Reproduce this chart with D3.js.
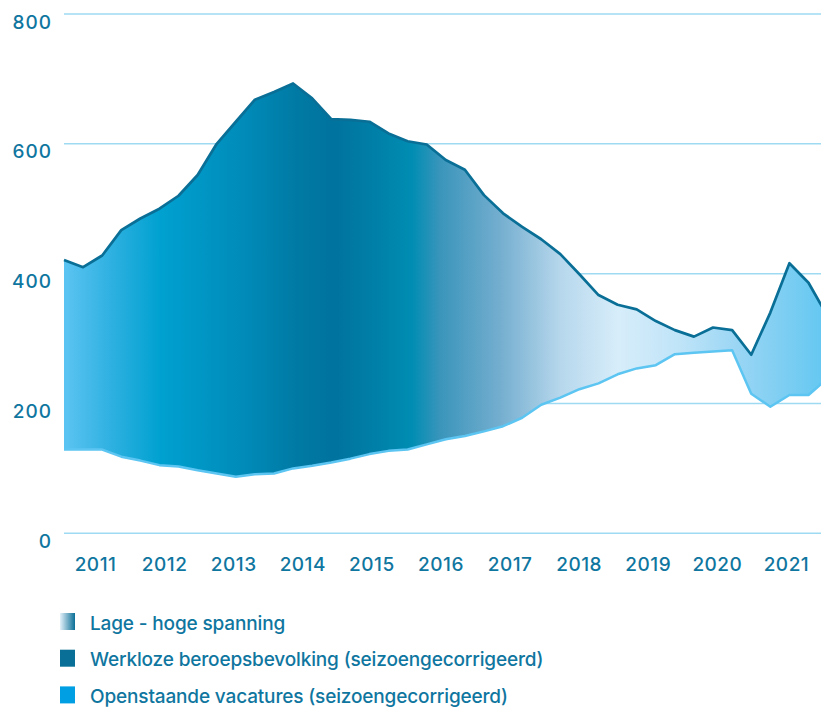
<!DOCTYPE html>
<html>
<head>
<meta charset="utf-8">
<script src="https://cdn.jsdelivr.net/npm/d3@7"></script>
<style>
  html, body { margin: 0; padding: 0; background: #ffffff; }
  svg { display: block; }
  text { font-family: "Inter", "Lato", sans-serif; font-weight: 500; fill: #0f76a0; }
</style>
</head>
<body>
<svg id="chart" width="821" height="709"></svg>
<script>
// Quarterly periods (2011 K1 .. 2021 K1)
const periods = [
  "2011K1","2011K2","2011K3","2011K4","2012K1","2012K2","2012K3","2012K4",
  "2013K1","2013K2","2013K3","2013K4","2014K1","2014K2","2014K3","2014K4",
  "2015K1","2015K2","2015K3","2015K4","2016K1","2016K2","2016K3","2016K4",
  "2017K1","2017K2","2017K3","2017K4","2018K1","2018K2","2018K3","2018K4",
  "2019K1","2019K2","2019K3","2019K4","2020K1","2020K2","2020K3","2020K4",
  "2021K1"
];
// Werkloze beroepsbevolking (x 1000)
const werklozen = [
  421, 410, 428, 467, 485, 500, 520, 552, 600, 634,
  668, 680, 693, 670, 638, 637, 634, 616, 604, 599,
  575, 560, 521, 493, 472, 453, 430, 399, 367, 352,
  345, 327, 313, 303, 317, 313, 275, 340, 416, 386,
  334
];
// Openstaande vacatures (x 1000)
const vacatures = [
  129, 129, 129, 118, 112, 105, 103, 97, 92, 87,
  91, 92, 100, 104, 109, 115, 122, 127, 129, 137,
  145, 150, 157, 165, 178, 198, 209, 222, 231, 245,
  254, 259, 276, 278, 280, 282, 215, 195, 213, 213,
  239
];
const yearLabels = ["2011","2012","2013","2014","2015","2016","2017","2018","2019","2020","2021"];
const yTicks = [0, 200, 400, 600, 800];
const legendItems = [
  "Lage - hoge spanning",
  "Werkloze beroepsbevolking (seizoengecorrigeerd)",
  "Openstaande vacatures (seizoengecorrigeerd)"
];

const svg = d3.select("#chart");
const W = 821;
const left = 64;
const step = 19.09;

const x = d3.scaleLinear().domain([0, periods.length - 1]).range([left, left + step * (periods.length - 1)]);
const y = d3.scaleLinear().domain([0, 800]).range([533.3, 14]);
const xYear = d3.scaleBand().domain(yearLabels).range([61, 821]);

const defs = svg.append("defs");
const grad = defs.append("linearGradient")
  .attr("id", "spanning")
  .attr("gradientUnits", "userSpaceOnUse")
  .attr("x1", left).attr("x2", W).attr("y1", 0).attr("y2", 0);
const stops = [
  [64, "#5cc4f2"], [110, "#2fb1e1"], [160, "#00a1d0"], [240, "#008cba"],
  [300, "#0079a3"], [335, "#00739e"], [380, "#0081a9"], [412, "#008db3"],
  [440, "#3a95bb"], [500, "#74aecf"], [560, "#b6d7ec"], [618, "#d7edfa"],
  [680, "#bfe4f8"], [740, "#98d5f4"], [821, "#66c8f1"]
];
stops.forEach(([px, c]) => grad.append("stop")
  .attr("offset", ((px - left) / (W - left) * 100) + "%")
  .attr("stop-color", c));

const lg = defs.append("linearGradient").attr("id", "legendGrad")
  .attr("x1", "0%").attr("x2", "100%");
lg.append("stop").attr("offset", "0%").attr("stop-color", "#e4f1fa");
lg.append("stop").attr("offset", "100%").attr("stop-color", "#0a6f96");

// Gridlines
svg.append("g").selectAll("line").data(yTicks).join("line")
  .attr("x1", left).attr("x2", W)
  .attr("y1", d => y(d)).attr("y2", d => y(d))
  .attr("stroke", "#9fdaf3").attr("stroke-width", 1.5);

// Y labels
svg.append("g").selectAll("text").data(yTicks).join("text")
  .attr("x", 52).attr("y", d => y(d) + 14.5)
  .attr("text-anchor", "end")
  .attr("font-size", 19)
  .attr("letter-spacing", 1)
  .text(d => d);

// Area between series
const data = periods.map((p, i) => ({ i, w: werklozen[i], v: vacatures[i] }));
const area = d3.area().x(d => x(d.i)).y0(d => y(d.v)).y1(d => y(d.w));
svg.append("path").datum(data).attr("d", area).attr("fill", "url(#spanning)");

// Lines
const lineV = d3.line().x(d => x(d.i)).y(d => y(d.v));
const lineW = d3.line().x(d => x(d.i)).y(d => y(d.w));
svg.append("path").datum(data).attr("d", lineV)
  .attr("fill", "none").attr("stroke", "#5cc5f2").attr("stroke-width", 2.5)
  .attr("stroke-linejoin", "round");
svg.append("path").datum(data).attr("d", lineW)
  .attr("fill", "none").attr("stroke", "#0a6f96").attr("stroke-width", 2.7)
  .attr("stroke-linejoin", "round");

// Year labels
svg.append("g").selectAll("text").data(yearLabels).join("text")
  .attr("x", d => xYear(d) + xYear.bandwidth() / 2)
  .attr("y", 570.5)
  .attr("text-anchor", "middle")
  .attr("font-size", 19)
  .attr("letter-spacing", 0.5)
  .text(d => d);

// Legend
const swatchFills = ["url(#legendGrad)", "#0a6f96", "#009fe3"];
const leg = svg.append("g").selectAll("g").data(legendItems).join("g")
  .attr("transform", (d, i) => `translate(60, ${613 + i * 36.7})`);
leg.append("rect").attr("width", 15).attr("height", 17)
  .attr("fill", (d, i) => swatchFills[i]);
leg.append("text").attr("x", 30).attr("y", 16.5)
  .attr("font-size", 19)
  .attr("letter-spacing", -0.15)
  .text(d => d);
</script>
</body>
</html>
